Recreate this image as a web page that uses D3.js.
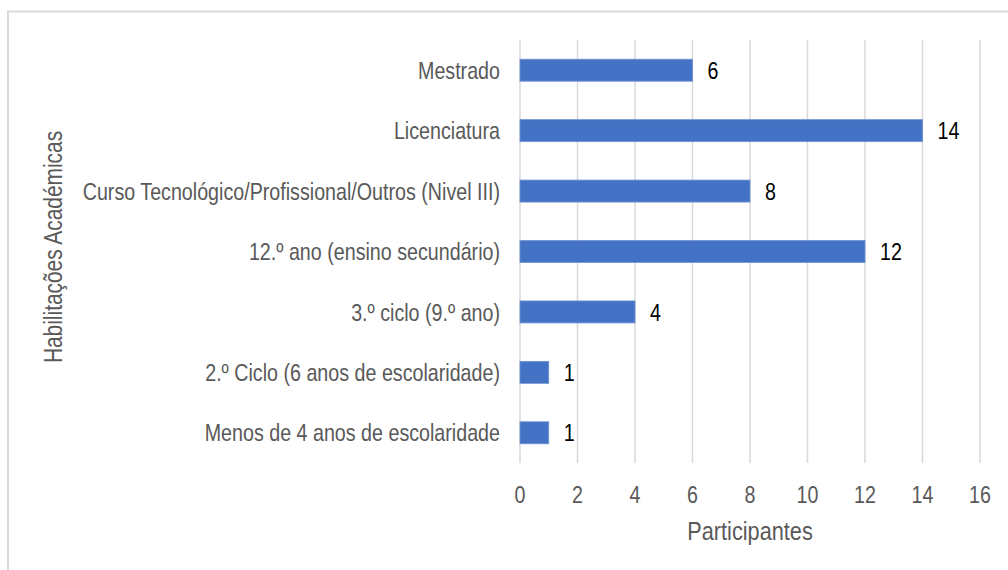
<!DOCTYPE html>
<html><head><meta charset="utf-8">
<script src="https://cdn.jsdelivr.net/npm/d3@7"></script>
<style>
html,body{margin:0;padding:0;background:#fff;}
svg{display:block;}
text{font-family:"Liberation Sans Narrow","Arial Narrow","Liberation Sans",Arial,sans-serif;}
</style></head>
<body>
<svg id="chart" width="1008" height="570"></svg>
<script>
const categories = [
  "Mestrado",
  "Licenciatura",
  "Curso Tecnológico/Profissional/Outros (Nivel III)",
  "12.º ano (ensino secundário)",
  "3.º ciclo (9.º ano)",
  "2.º Ciclo (6 anos de escolaridade)",
  "Menos de 4 anos de escolaridade"
];
const values = [6, 14, 8, 12, 4, 1, 1];
const xTicks = [0, 2, 4, 6, 8, 10, 12, 14, 16];
const xTitle = "Participantes";
const yTitle = "Habilitações Académicas";

const SX = 0.82; // horizontal condensing to mimic a narrow face

const svg = d3.select("#chart");
// outer frame
svg.append("path")
  .attr("d", "M8,570 V11.5 H1008")
  .attr("fill", "none").attr("stroke", "#d9d9d9").attr("stroke-width", 2);

const x = d3.scaleLinear().domain([0, 16]).range([520, 980]);
const y = d3.scaleBand().domain(categories).range([40, 463]).paddingInner(0.636).paddingOuter(0.318);

// gridlines
svg.append("g").selectAll("line").data(xTicks).join("line")
  .attr("x1", d => x(d)).attr("x2", d => x(d))
  .attr("y1", 40).attr("y2", 463)
  .attr("stroke", "#d9d9d9").attr("stroke-width", 1.5);

// bars
svg.append("g").selectAll("rect").data(values).join("rect")
  .attr("x", x(0))
  .attr("y", (d, i) => y(categories[i]))
  .attr("width", d => x(d) - x(0))
  .attr("height", y.bandwidth())
  .attr("fill", "#4472c4")
  .attr("stroke", "#6f93d3").attr("stroke-width", 0.8);

// value labels
svg.append("g").selectAll("text").data(values).join("text")
  .attr("transform", (d, i) => `translate(${x(d) + 15},${y(categories[i]) + y.bandwidth() / 2}) scale(${SX},1)`)
  .attr("dy", "0.36em")
  .attr("font-size", 24).attr("fill", "#000")
  .text(d => d);

// category labels
svg.append("g").selectAll("text").data(categories).join("text")
  .attr("transform", d => `translate(500,${y(d) + y.bandwidth() / 2}) scale(${SX},1)`)
  .attr("dy", "0.36em")
  .attr("text-anchor", "end")
  .attr("font-size", 24).attr("fill", "#595959")
  .text(d => d);

// x tick labels
svg.append("g").selectAll("text").data(xTicks).join("text")
  .attr("transform", d => `translate(${x(d)},494) scale(${SX},1)`)
  .attr("dy", "0.36em")
  .attr("text-anchor", "middle")
  .attr("font-size", 24).attr("fill", "#595959")
  .text(d => d);

// axis titles
svg.append("text")
  .attr("transform", `translate(750,540) scale(${SX},1)`)
  .attr("text-anchor", "middle")
  .attr("font-size", 26.5).attr("fill", "#595959")
  .text(xTitle);

svg.append("text")
  .attr("transform", `translate(62,247) rotate(-90) scale(${SX},1)`)
  .attr("text-anchor", "middle")
  .attr("font-size", 25.5).attr("fill", "#595959")
  .text(yTitle);
</script>
</body></html>
